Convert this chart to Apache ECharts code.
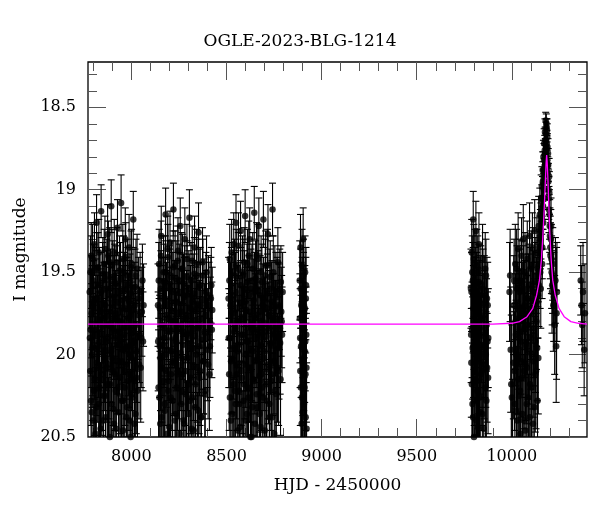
<!DOCTYPE html>
<html>
<head>
<meta charset="utf-8">
<script src="https://cdn.jsdelivr.net/npm/echarts@6/dist/echarts.min.js"></script>
<style>html,body{margin:0;padding:0;background:#fff}#c{width:600px;height:512px}</style>
</head>
<body>
<div id="c"></div>
<script>
// Tick labels / tick positions
const xMajor = [8000, 8500, 9000, 9500, 10000];
const xMinor = [7800,7900,8100,8200,8300,8400,8600,8700,8800,8900,9100,9200,9300,9400,9600,9700,9800,9900,10100,10200,10300];
const yMajor = [18.5, 19, 19.5, 20, 20.5];
const yMinor = [18.3,18.4,18.6,18.7,18.8,18.9,19.1,19.2,19.3,19.4,19.6,19.7,19.8,19.9,20.1,20.2,20.3,20.4];

// Observations: [HJD-2450000, I mag, error]
const season1 = [[7781,19.62,0.22],[7784,20.10,0.33],[7786,19.85,0.28],[7789,19.40,0.20],[7792,20.35,0.38],[7795,19.71,0.25],[7797,19.95,0.30],[7800,19.55,0.22],[7803,20.22,0.36],[7806,19.33,0.19],[7808,19.88,0.29],[7811,20.48,0.40],[7814,19.66,0.24],[7817,19.20,0.17],[7819,20.05,0.32],[7822,19.79,0.27],[7825,19.47,0.21],[7828,20.30,0.37],[7830,19.92,0.30],[7833,19.58,0.23],[7836,20.62,0.42],[7839,19.74,0.26],[7841,19.13,0.16],[7844,20.15,0.34],[7847,19.83,0.28],[7850,19.51,0.22],[7852,20.40,0.39],[7855,19.69,0.25],[7858,19.98,0.31],[7861,19.36,0.20],[7864,20.25,0.36],[7866,19.77,0.27],[7869,19.60,0.23],[7872,20.08,0.33],[7875,19.27,0.18],[7877,19.90,0.30],[7880,20.55,0.41],[7883,19.64,0.24],[7886,19.44,0.21],[7888,20.18,0.35],[7891,19.81,0.28],[7894,19.10,0.16],[7897,20.02,0.32],[7899,19.70,0.26],[7902,19.53,0.22],[7905,20.33,0.38],[7908,19.86,0.29],[7910,19.38,0.20],[7913,20.12,0.34],[7916,19.75,0.26],[7919,19.57,0.23],[7921,20.45,0.40],[7924,19.94,0.30],[7927,19.23,0.17],[7930,19.68,0.25],[7933,20.20,0.35],[7935,19.80,0.28],[7938,19.49,0.21],[7941,20.68,0.43],[7944,19.89,0.29],[7946,19.08,0.17],[7949,20.04,0.32],[7952,19.72,0.26],[7955,19.42,0.21],[7957,20.28,0.37],[7960,19.84,0.28],[7963,19.61,0.23],[7966,20.10,0.33],[7968,19.30,0.19],[7971,19.96,0.31],[7974,20.38,0.39],[7977,19.66,0.25],[7979,19.52,0.22],[7982,20.16,0.34],[7985,19.78,0.27],[7988,19.35,0.20],[7990,20.00,0.32],[7993,19.63,0.24],[7996,20.50,0.41],[7999,19.87,0.29],[8001,19.45,0.21],[8004,20.24,0.36],[8007,19.73,0.26],[8010,19.18,0.17],[8013,19.93,0.30],[8016,20.42,0.40],[8019,19.59,0.23],[8022,19.82,0.28],[8026,20.14,0.34],[8030,19.48,0.21],[8035,19.76,0.27],[8040,20.06,0.33],[8046,19.62,0.24],[8052,19.90,0.30],[8058,19.55,0.22],[8064,19.70,0.25]];
const season1b = [[7782,19.90,0.30],[7785,19.50,0.22],[7788,20.28,0.37],[7791,19.75,0.27],[7794,20.00,0.32],[7796,19.42,0.21],[7799,20.40,0.39],[7802,19.68,0.25],[7805,19.96,0.31],[7807,20.15,0.34],[7810,19.58,0.23],[7813,19.85,0.29],[7816,20.32,0.37],[7818,19.48,0.22],[7821,20.08,0.33],[7824,19.72,0.26],[7827,19.95,0.31],[7829,19.38,0.20],[7832,20.20,0.35],[7835,19.80,0.28],[7838,20.45,0.40],[7840,19.62,0.24],[7843,19.88,0.29],[7846,20.12,0.34],[7849,19.55,0.23],[7851,19.78,0.27],[7854,20.25,0.36],[7857,19.45,0.21],[7860,20.02,0.32],[7863,19.70,0.26],[7865,20.38,0.39],[7868,19.92,0.30],[7871,19.52,0.22],[7874,20.18,0.35],[7876,19.82,0.28],[7879,19.40,0.21],[7882,20.06,0.33],[7885,19.74,0.27],[7887,20.50,0.41],[7890,19.60,0.24],[7893,19.98,0.31],[7896,20.30,0.37],[7898,19.46,0.22],[7901,19.84,0.28],[7904,20.10,0.33],[7907,19.65,0.25],[7909,20.42,0.40],[7912,19.56,0.23],[7915,19.90,0.30],[7918,20.22,0.36],[7920,19.78,0.27],[7923,19.44,0.21],[7926,20.04,0.32],[7929,19.86,0.29],[7932,20.35,0.38],[7934,19.62,0.24],[7937,19.94,0.30],[7940,20.14,0.34],[7943,19.54,0.22],[7945,19.80,0.28],[7948,20.28,0.37],[7951,19.67,0.25],[7954,19.97,0.31],[7956,20.46,0.40],[7959,19.50,0.22],[7962,19.88,0.29],[7965,20.20,0.35],[7967,19.72,0.26],[7970,19.41,0.21],[7973,20.06,0.33],[7976,19.83,0.28],[7978,20.32,0.38],[7981,19.58,0.23],[7984,19.95,0.30],[7987,20.12,0.34],[7989,19.68,0.25],[7992,20.40,0.39],[7995,19.76,0.27],[7998,19.47,0.22],[8000,20.02,0.32],[8003,19.85,0.29],[8006,20.26,0.36],[8009,19.60,0.24],[8012,19.92,0.30],[8015,20.16,0.34],[8018,19.70,0.26],[8021,20.36,0.38],[8024,19.52,0.22],[8028,19.98,0.31],[8032,20.22,0.35],[8038,19.66,0.25],[8043,19.88,0.29],[8049,20.08,0.33],[8055,19.74,0.27],[8061,19.92,0.30]];
const season2 = [[8140,19.70,0.25],[8143,20.20,0.35],[8146,19.45,0.21],[8149,19.95,0.31],[8152,20.42,0.40],[8155,19.60,0.23],[8157,19.28,0.18],[8160,20.08,0.33],[8163,19.82,0.28],[8166,20.60,0.42],[8169,19.50,0.22],[8172,19.90,0.30],[8175,20.30,0.37],[8177,19.66,0.25],[8180,19.15,0.16],[8183,20.00,0.32],[8186,19.76,0.27],[8189,20.48,0.40],[8192,19.41,0.20],[8195,19.86,0.29],[8197,20.16,0.34],[8200,19.57,0.23],[8203,19.32,0.19],[8206,20.26,0.36],[8209,19.73,0.26],[8212,19.98,0.31],[8215,20.70,0.43],[8218,19.62,0.24],[8221,19.12,0.16],[8224,20.05,0.32],[8227,19.80,0.28],[8230,19.46,0.21],[8233,20.36,0.38],[8236,19.92,0.30],[8239,19.68,0.25],[8242,20.12,0.34],[8245,19.37,0.20],[8248,19.84,0.28],[8251,20.52,0.41],[8254,19.55,0.22],[8257,19.22,0.17],[8260,20.02,0.32],[8263,19.74,0.26],[8266,20.22,0.35],[8269,19.48,0.21],[8272,19.94,0.30],[8275,20.40,0.39],[8278,19.65,0.24],[8281,19.30,0.19],[8284,20.10,0.33],[8287,19.78,0.27],[8290,20.58,0.42],[8293,19.53,0.22],[8296,19.88,0.29],[8299,20.18,0.35],[8302,19.60,0.23],[8305,19.17,0.17],[8308,20.28,0.36],[8311,19.72,0.26],[8314,19.96,0.31],[8317,20.45,0.40],[8320,19.43,0.21],[8323,19.85,0.29],[8326,20.07,0.33],[8329,19.63,0.24],[8332,19.35,0.19],[8335,20.32,0.37],[8338,19.79,0.27],[8341,20.00,0.32],[8344,19.52,0.22],[8347,20.66,0.43],[8350,19.70,0.25],[8353,19.26,0.18],[8356,20.14,0.34],[8359,19.83,0.28],[8362,19.58,0.23],[8366,20.38,0.38],[8370,19.91,0.30],[8374,19.44,0.21],[8378,20.04,0.32],[8382,19.67,0.25],[8386,20.24,0.36],[8390,19.76,0.27],[8395,19.50,0.22],[8400,19.97,0.31],[8405,19.64,0.24],[8410,20.12,0.34],[8415,19.81,0.28],[8420,19.58,0.23],[8425,19.73,0.26]];
const season2b = [[8141,19.92,0.30],[8144,19.55,0.23],[8147,20.26,0.36],[8150,19.72,0.26],[8153,20.02,0.32],[8156,19.40,0.21],[8159,20.38,0.39],[8162,19.66,0.25],[8165,19.94,0.31],[8168,20.16,0.34],[8171,19.56,0.23],[8174,19.84,0.29],[8176,20.34,0.38],[8179,19.50,0.22],[8182,20.10,0.33],[8185,19.70,0.26],[8188,19.97,0.31],[8191,19.36,0.20],[8194,20.22,0.35],[8196,19.78,0.28],[8199,20.44,0.40],[8202,19.60,0.24],[8205,19.86,0.29],[8208,20.12,0.34],[8211,19.53,0.22],[8214,19.80,0.28],[8217,20.28,0.37],[8220,19.47,0.22],[8223,20.04,0.32],[8226,19.69,0.26],[8229,20.40,0.39],[8232,19.90,0.30],[8235,19.54,0.23],[8238,20.20,0.35],[8241,19.82,0.28],[8244,19.43,0.21],[8247,20.06,0.33],[8250,19.75,0.27],[8253,20.48,0.40],[8256,19.62,0.24],[8259,19.99,0.31],[8262,20.30,0.37],[8265,19.48,0.22],[8268,19.86,0.29],[8271,20.12,0.34],[8274,19.64,0.25],[8277,20.42,0.40],[8280,19.57,0.23],[8283,19.90,0.30],[8286,20.24,0.36],[8289,19.76,0.27],[8292,19.42,0.21],[8295,20.02,0.32],[8298,19.87,0.29],[8301,20.36,0.38],[8304,19.63,0.24],[8307,19.93,0.30],[8310,20.14,0.34],[8313,19.55,0.23],[8316,19.81,0.28],[8319,20.26,0.36],[8322,19.68,0.25],[8325,19.96,0.31],[8328,20.46,0.40],[8331,19.51,0.22],[8334,19.89,0.29],[8337,20.18,0.35],[8340,19.73,0.26],[8343,19.45,0.21],[8346,20.08,0.33],[8349,19.84,0.28],[8352,20.34,0.38],[8355,19.59,0.23],[8358,19.95,0.30],[8361,20.10,0.33],[8364,19.70,0.26],[8368,20.38,0.39],[8372,19.78,0.27],[8376,19.52,0.22],[8380,20.04,0.32],[8384,19.86,0.29],[8388,20.22,0.35],[8392,19.62,0.24],[8398,19.90,0.30],[8403,20.06,0.33],[8408,19.70,0.26],[8413,19.95,0.31],[8418,19.66,0.25],[8423,19.85,0.29]];
const season3 = [[8511,19.66,0.25],[8514,20.12,0.34],[8517,19.42,0.21],[8520,19.90,0.30],[8523,20.40,0.39],[8526,19.58,0.23],[8529,20.03,0.32],[8532,19.75,0.27],[8535,20.55,0.41],[8538,19.33,0.19],[8541,19.86,0.29],[8544,20.22,0.35],[8547,19.62,0.24],[8550,19.20,0.17],[8553,20.06,0.33],[8556,19.80,0.28],[8559,20.46,0.40],[8562,19.48,0.22],[8565,19.94,0.30],[8568,20.30,0.37],[8571,19.69,0.25],[8574,19.25,0.18],[8577,20.10,0.33],[8580,19.77,0.27],[8583,20.64,0.42],[8586,19.52,0.22],[8589,19.88,0.29],[8592,20.18,0.35],[8595,19.60,0.23],[8598,19.16,0.16],[8601,20.00,0.32],[8604,19.73,0.26],[8607,20.36,0.38],[8610,19.45,0.21],[8613,19.92,0.30],[8616,20.26,0.36],[8619,19.64,0.24],[8622,19.30,0.19],[8625,20.08,0.33],[8628,19.82,0.28],[8631,20.50,0.41],[8634,19.55,0.22],[8637,19.98,0.31],[8640,20.15,0.34],[8643,19.67,0.25],[8646,19.14,0.16],[8649,20.04,0.32],[8652,19.78,0.27],[8655,20.72,0.43],[8658,19.40,0.20],[8661,19.85,0.29],[8664,20.32,0.37],[8667,19.61,0.24],[8670,19.22,0.17],[8673,20.13,0.34],[8676,19.74,0.26],[8679,20.44,0.40],[8682,19.50,0.22],[8685,19.95,0.30],[8688,20.20,0.35],[8691,19.70,0.25],[8694,19.18,0.17],[8697,20.02,0.32],[8700,19.81,0.28],[8703,20.58,0.42],[8706,19.46,0.21],[8709,19.89,0.29],[8712,20.28,0.36],[8715,19.63,0.24],[8718,19.27,0.18],[8721,20.09,0.33],[8724,19.76,0.27],[8727,20.38,0.39],[8730,19.53,0.22],[8733,19.93,0.30],[8736,20.16,0.35],[8739,19.68,0.25],[8742,19.12,0.16],[8745,20.05,0.32],[8748,19.79,0.28],[8751,20.48,0.40],[8754,19.57,0.23],[8758,19.84,0.29],[8762,20.24,0.36],[8766,19.65,0.24],[8770,19.44,0.21],[8774,20.10,0.33],[8778,19.71,0.26],[8782,19.93,0.31],[8786,19.56,0.22],[8790,19.80,0.28],[8795,19.62,0.24]];
const season3b = [[8512,19.90,0.30],[8515,19.55,0.23],[8518,20.26,0.36],[8521,19.70,0.26],[8524,20.04,0.32],[8527,19.38,0.20],[8530,20.36,0.38],[8533,19.64,0.25],[8536,19.96,0.31],[8539,20.18,0.35],[8542,19.52,0.22],[8545,19.84,0.29],[8548,20.30,0.37],[8551,19.46,0.22],[8554,20.12,0.34],[8557,19.72,0.26],[8560,19.98,0.31],[8563,19.34,0.20],[8566,20.22,0.35],[8569,19.80,0.28],[8572,20.44,0.40],[8575,19.58,0.23],[8578,19.88,0.29],[8581,20.14,0.34],[8584,19.50,0.22],[8587,19.78,0.27],[8590,20.28,0.37],[8593,19.44,0.21],[8596,20.06,0.33],[8599,19.68,0.25],[8602,20.40,0.39],[8605,19.92,0.30],[8608,19.56,0.23],[8611,20.20,0.35],[8614,19.83,0.28],[8617,19.40,0.21],[8620,20.08,0.33],[8623,19.74,0.27],[8626,20.50,0.41],[8629,19.60,0.24],[8632,19.97,0.31],[8635,20.32,0.37],[8638,19.48,0.22],[8641,19.86,0.29],[8644,20.16,0.34],[8647,19.62,0.24],[8650,20.42,0.40],[8653,19.54,0.23],[8656,19.90,0.30],[8659,20.24,0.36],[8662,19.76,0.27],[8665,19.42,0.21],[8668,20.02,0.32],[8671,19.88,0.29],[8674,20.36,0.38],[8677,19.64,0.24],[8680,19.94,0.30],[8683,20.12,0.34],[8686,19.56,0.23],[8689,19.82,0.28],[8692,20.26,0.36],[8695,19.66,0.25],[8698,19.98,0.31],[8701,20.46,0.40],[8704,19.52,0.22],[8707,19.86,0.29],[8710,20.18,0.35],[8713,19.72,0.26],[8716,19.46,0.22],[8719,20.06,0.33],[8722,19.84,0.28],[8725,20.30,0.37],[8728,19.60,0.24],[8731,19.94,0.30],[8734,20.12,0.34],[8737,19.70,0.26],[8740,20.38,0.39],[8743,19.78,0.27],[8746,19.50,0.22],[8749,20.04,0.32],[8752,19.88,0.29],[8756,20.22,0.35],[8760,19.62,0.24],[8764,19.90,0.30],[8768,20.08,0.33],[8772,19.70,0.26],[8776,19.96,0.31],[8780,19.60,0.24],[8784,20.15,0.34],[8788,19.74,0.27],[8792,19.88,0.29]];
const season4 = [[8885,19.55,0.24],[8887,19.90,0.30],[8889,19.35,0.20],[8891,20.20,0.36],[8893,19.70,0.26],[8894,20.62,0.42],[8895,20.42,0.40],[8897,19.46,0.22],[8899,19.82,0.28],[8901,20.05,0.32],[8903,19.30,0.19],[8905,19.62,0.24],[8907,20.30,0.37],[8908,20.55,0.41],[8909,19.75,0.27],[8911,19.98,0.31],[8913,19.50,0.22],[8915,20.12,0.34],[8917,19.66,0.25],[8919,19.88,0.29],[8921,20.45,0.40]];
const season4b = [[8886,19.78,0.27],[8888,20.10,0.33],[8890,19.60,0.24],[8892,19.95,0.31],[8896,20.26,0.36],[8898,19.66,0.25],[8900,20.35,0.38],[8902,19.85,0.29],[8904,19.52,0.22],[8906,20.02,0.32],[8910,20.20,0.35],[8912,19.72,0.26],[8914,19.92,0.30],[8916,20.38,0.39],[8918,19.58,0.23],[8920,20.08,0.33]];
const season5 = [[9785,19.60,0.24],[9787,20.05,0.33],[9789,19.38,0.20],[9791,19.85,0.29],[9793,20.30,0.37],[9795,19.55,0.23],[9797,19.18,0.17],[9799,19.95,0.31],[9801,20.50,0.41],[9803,19.70,0.26],[9805,19.45,0.21],[9807,20.15,0.34],[9809,19.80,0.28],[9811,19.25,0.18],[9813,20.40,0.39],[9815,19.62,0.24],[9817,19.92,0.30],[9819,20.22,0.35],[9821,19.50,0.22],[9823,19.75,0.27],[9825,20.62,0.42],[9827,19.33,0.19],[9829,20.00,0.32],[9831,19.68,0.25],[9834,20.35,0.38],[9837,19.57,0.23],[9840,19.88,0.29],[9843,20.10,0.33],[9846,19.42,0.21],[9849,19.78,0.27],[9852,20.45,0.40],[9855,19.64,0.24],[9858,19.95,0.31],[9861,20.20,0.35],[9864,19.52,0.22],[9867,19.82,0.28],[9870,20.08,0.33],[9873,19.70,0.26],[9876,19.90,0.30]];
const season5b = [[9786,19.88,0.29],[9788,19.62,0.24],[9790,20.18,0.35],[9792,19.50,0.22],[9794,19.96,0.31],[9796,20.38,0.39],[9798,19.72,0.26],[9800,19.42,0.21],[9802,20.10,0.33],[9804,19.84,0.28],[9806,20.28,0.37],[9808,19.58,0.23],[9810,19.98,0.31],[9812,19.66,0.25],[9814,20.16,0.34],[9816,19.46,0.22],[9818,19.90,0.30],[9820,20.44,0.40],[9822,19.74,0.27],[9824,20.04,0.32],[9826,19.56,0.23],[9828,19.86,0.29],[9830,20.26,0.36],[9833,19.64,0.24],[9836,19.94,0.30],[9839,20.12,0.34],[9842,19.70,0.26],[9845,20.36,0.38],[9848,19.60,0.24],[9851,19.96,0.31],[9854,20.06,0.33],[9857,19.76,0.27],[9860,19.48,0.22],[9863,20.00,0.32],[9866,20.28,0.37],[9869,19.66,0.25],[9872,19.92,0.30],[9875,20.14,0.34]];
const season6 = [[9988,19.62,0.30],[9991,19.52,0.28],[9994,19.97,0.38],[9997,20.18,0.42],[10000,20.26,0.44],[10004,20.60,0.45],[10010,19.70,0.30],[10014,20.10,0.36],[10018,19.45,0.24],[10021,19.88,0.31],[10024,20.35,0.40],[10027,19.60,0.26],[10030,20.02,0.34],[10033,19.36,0.22],[10036,19.78,0.29],[10039,20.25,0.38],[10042,19.55,0.25],[10045,20.48,0.42],[10048,19.92,0.32],[10051,19.40,0.23],[10054,20.14,0.36],[10057,19.72,0.28],[10060,19.30,0.21],[10063,20.40,0.40],[10066,19.84,0.30],[10069,19.50,0.24],[10072,20.06,0.34],[10075,19.66,0.27],[10078,20.30,0.39],[10081,19.42,0.23],[10084,19.95,0.32],[10087,20.55,0.43],[10090,19.58,0.25],[10093,19.28,0.20],[10096,20.18,0.37],[10099,19.75,0.28],[10102,19.48,0.23],[10105,20.00,0.33],[10108,19.35,0.21],[10111,20.42,0.41],[10114,19.62,0.25],[10117,19.88,0.31],[10120,19.25,0.19],[10123,20.12,0.35],[10126,19.52,0.23],[10129,19.80,0.29],[10132,19.38,0.21],[10135,20.28,0.38],[10138,19.64,0.26],[10141,19.22,0.18],[10144,19.45,0.21],[10147,19.15,0.16],[10150,19.30,0.18],[10152,19.60,0.24],[10154,19.05,0.14],[10156,19.20,0.16],[10158,18.98,0.12],[10160,19.35,0.19],[10162,18.88,0.11],[10164,19.10,0.14],[10166,18.80,0.10],[10168,19.00,0.12],[10170,18.72,0.09],[10172,18.90,0.11],[10174,18.65,0.08],[10176,18.78,0.09],[10178,18.58,0.05],[10180,18.70,0.08],[10182,18.62,0.05],[10184,18.75,0.08],[10186,18.68,0.08],[10188,18.85,0.10],[10190,18.78,0.09],[10192,18.95,0.11],[10194,19.05,0.13],[10196,18.92,0.11],[10198,19.15,0.15],[10200,19.28,0.17],[10203,19.40,0.20],[10206,19.22,0.17],[10209,19.50,0.22],[10212,19.58,0.24],[10215,19.45,0.22],[10220,19.65,0.27],[10225,19.82,0.30],[10229,19.55,0.26],[10233,19.95,0.34],[10235,19.75,0.40],[10237,19.62,0.30]];
const season6b = [[10008,20.05,0.34],[10012,19.55,0.25],[10016,20.30,0.39],[10019,19.80,0.29],[10022,20.00,0.33],[10025,19.48,0.24],[10028,20.40,0.41],[10031,19.72,0.28],[10034,20.15,0.36],[10037,19.90,0.31],[10040,19.62,0.26],[10043,20.22,0.37],[10046,19.76,0.28],[10049,20.04,0.34],[10052,19.56,0.25],[10055,20.36,0.40],[10058,19.86,0.30],[10061,19.60,0.26],[10064,20.10,0.35],[10067,19.70,0.27],[10070,20.46,0.42],[10073,19.94,0.32],[10076,19.52,0.24],[10079,20.08,0.34],[10082,19.82,0.30],[10085,20.26,0.38],[10088,19.66,0.27],[10091,19.98,0.32],[10094,20.38,0.40],[10097,19.60,0.25],[10100,19.90,0.31],[10103,20.20,0.37],[10106,19.72,0.28],[10109,19.46,0.23],[10112,20.04,0.34],[10115,19.84,0.30],[10118,20.32,0.39],[10121,19.56,0.24],[10124,19.92,0.31],[10127,20.10,0.35],[10130,19.68,0.27],[10133,19.96,0.32],[10136,19.48,0.23],[10139,20.02,0.34],[10142,19.58,0.25],[10146,19.35,0.19],[10149,19.50,0.22],[10153,19.25,0.17],[10157,19.12,0.15],[10159,19.45,0.21],[10161,19.05,0.13],[10163,18.95,0.12],[10165,19.20,0.16],[10167,18.88,0.11],[10169,18.82,0.10],[10171,19.05,0.13],[10173,18.76,0.09],[10175,18.70,0.08],[10177,18.88,0.10],[10179,18.66,0.07],[10181,18.60,0.06],[10183,18.72,0.08],[10185,18.64,0.07],[10187,18.74,0.08],[10189,18.90,0.10],[10191,18.85,0.10],[10193,19.00,0.12],[10195,19.12,0.14],[10197,19.02,0.13],[10199,19.22,0.16],[10202,19.35,0.19],[10205,19.30,0.18],[10208,19.42,0.21],[10211,19.62,0.25],[10214,19.52,0.23],[10218,19.70,0.28]];
const season7 = [[10362,19.55,0.21],[10366,19.70,0.24],[10370,19.82,0.26],[10374,19.62,0.30],[10380,19.97,0.28],[10384,19.75,0.30]];

// Model light curve: [HJD-2450000, I mag]
const modelCurve = [[7772,19.815],[9900,19.815],[10000,19.81],[10040,19.80],[10080,19.77],[10110,19.72],[10130,19.64],[10145,19.55],[10155,19.43],[10163,19.28],[10170,19.12],[10176,18.95],[10180,18.84],[10183,18.79],[10186,18.84],[10190,18.95],[10195,19.12],[10200,19.28],[10207,19.43],[10215,19.55],[10228,19.64],[10248,19.72],[10275,19.77],[10310,19.80],[10350,19.81],[10395,19.815]];

const observations = [].concat(season1, season1b, season2, season2b, season3, season3b, season4, season4b, season5, season5b, season6, season6b, season7);

const FONT = 'DejaVu Serif';
const X_MIN = 7772, X_MAX = 10395, Y_MIN = 18.225, Y_MAX = 20.5;
const tickColor = '#555';

function xAx(pos, ticks, len, labels) {
  return {
    type: 'value', position: pos, min: X_MIN, max: X_MAX,
    axisLine: { show: false },
    splitLine: { show: false },
    axisTick: { show: true, inside: true, length: len, customValues: ticks, lineStyle: { color: tickColor, width: 1 } },
    axisLabel: labels ? { show: true, customValues: ticks, formatter: v => String(v), color: '#000', fontFamily: FONT, fontSize: 16, margin: 12 } : { show: false },
    name: (labels ? 'HJD - 2450000' : ''), nameLocation: 'middle', nameGap: 40,
    nameTextStyle: { color: '#000', fontFamily: FONT, fontSize: 17 }
  };
}
function yAx(pos, ticks, len, labels) {
  return {
    type: 'value', position: pos, min: Y_MIN, max: Y_MAX, inverse: true,
    axisLine: { show: false },
    splitLine: { show: false },
    axisTick: { show: true, inside: true, length: len, customValues: ticks, lineStyle: { color: tickColor, width: 1 } },
    axisLabel: labels ? { show: true, customValues: ticks, formatter: v => String(v), color: '#000', fontFamily: FONT, fontSize: 16, margin: 12 } : { show: false },
    name: (labels ? 'I magnitude' : ''), nameLocation: 'middle', nameGap: 56, nameRotate: 90,
    nameTextStyle: { color: '#000', fontFamily: FONT, fontSize: 17 }
  };
}

function renderErr(params, api) {
  const t = api.value(0), m = api.value(1), e = api.value(2);
  const p1 = api.coord([t, m - e]);
  const p2 = api.coord([t, m + e]);
  const h = 3.5;
  const style = { stroke: '#000', lineWidth: 1.1, fill: null };
  return {
    type: 'group',
    children: [
      { type: 'line', shape: { x1: p1[0], y1: p1[1], x2: p2[0], y2: p2[1] }, style: style },
      { type: 'line', shape: { x1: p1[0] - h, y1: p1[1], x2: p1[0] + h, y2: p1[1] }, style: style },
      { type: 'line', shape: { x1: p2[0] - h, y1: p2[1], x2: p2[0] + h, y2: p2[1] }, style: style }
    ]
  };
}

const chart = echarts.init(document.getElementById('c'), null, { renderer: 'canvas' });
chart.setOption({
  animation: false,
  backgroundColor: '#fff',
  title: { text: 'OGLE-2023-BLG-1214', left: 'center', top: 28, textStyle: { color: '#000', fontFamily: FONT, fontSize: 17, fontWeight: 'normal' } },
  grid: { left: 88, right: 13, top: 62, bottom: 75, show: true, borderColor: '#000', borderWidth: 1.3, backgroundColor: 'transparent' },
  xAxis: [
    xAx('bottom', xMajor, 18, true),
    xAx('bottom', xMinor, 9, false),
    xAx('top', xMajor, 18, false),
    xAx('top', xMinor, 9, false)
  ],
  yAxis: [
    yAx('left', yMajor, 18, true),
    yAx('left', yMinor, 9, false),
    yAx('right', yMajor, 18, false),
    yAx('right', yMinor, 9, false)
  ],
  series: [
    { type: 'custom', xAxisIndex: 0, yAxisIndex: 0, renderItem: renderErr, data: observations, clip: true, encode: { x: 0, y: 1 }, z: 2 },
    { type: 'scatter', xAxisIndex: 0, yAxisIndex: 0, data: observations.map(d => [d[0], d[1]]), symbol: 'circle', symbolSize: 6.5, itemStyle: { color: '#000' }, clip: true, z: 3 },
    { type: 'line', xAxisIndex: 0, yAxisIndex: 0, data: modelCurve, showSymbol: false, lineStyle: { color: '#ff00ff', width: 1.3 }, clip: true, z: 4 }
  ]
});
</script>
</body>
</html>
